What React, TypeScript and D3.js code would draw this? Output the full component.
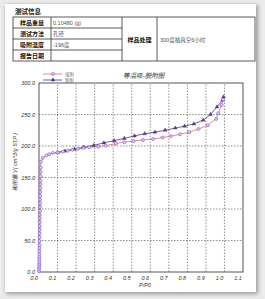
import React from 'react';
import * as d3 from 'd3';

// adsorption branch (P/P0, V)
const adsP = [0.0003, 0.0005, 0.0007, 0.0009, 0.0011, 0.0013, 0.0015, 0.0017, 0.0019, 0.0021, 0.0023, 0.0026, 0.0029, 0.0032, 0.0035, 0.0038, 0.0041, 0.0044, 0.0047, 0.005, 0.0053, 0.0056, 0.0059, 0.0062, 0.0065, 0.0068, 0.0072, 0.0076, 0.008, 0.0085, 0.009, 0.0095, 0.01,
  0.02, 0.04, 0.055, 0.075, 0.1, 0.13, 0.155, 0.18, 0.21, 0.24, 0.27, 0.32, 0.36, 0.415, 0.46, 0.51, 0.56, 0.615, 0.665, 0.71, 0.76, 0.81, 0.86, 0.91, 0.955, 0.967, 0.985, 0.993];
const adsV = [1, 4, 7, 10, 13, 16, 20, 24, 28, 33, 38, 43, 49, 55, 61, 67, 73, 79, 85, 91, 97, 103, 109, 115, 121, 127, 133, 139, 145, 152, 159, 166, 175,
  181, 185, 187, 189, 190, 191, 192.5, 194, 195.5, 197, 198, 199, 200.5, 204, 206, 208, 209.5, 211, 213.5, 215.5, 218.5, 222, 227, 233, 243, 252, 265, 274];

// desorption branch
const desP = [0.995, 0.99, 0.96, 0.925, 0.885, 0.835, 0.785, 0.735, 0.68, 0.625, 0.57, 0.515, 0.46, 0.405, 0.35, 0.295, 0.24, 0.19, 0.14, 0.1];
const desV = [278, 273, 262, 250, 241, 235, 231.5, 228.5, 225, 222, 219.5, 216, 212, 208.5, 205, 201, 198, 195, 192, 190];

const xTicks = [0, 0.1, 0.2, 0.3, 0.4, 0.5, 0.6, 0.7, 0.8, 0.9, 1.0, 1.1];
const yTicks = [0, 50, 100, 150, 200, 250, 300];

const infoLabels = ['样品重量', '测试方法', '吸附温度', '报告日期'];
const infoValues = ['0.10480 (g)', '孔径', '-196度', ''];
const treatLabel = '样品处理';
const treatValue = '300度抽真空6小时';
const seriesNames = ['吸附', '脱附'];

const font = 'Liberation Sans, Arial, "Noto Sans CJK SC", sans-serif';

export default function App() {
  const x = d3.scaleLinear().domain([0, 1.1]).range([39, 243]);
  const y = d3.scaleLinear().domain([0, 300]).range([272, 83]);

  const ads = adsP.map((p, i) => [p, adsV[i]] as [number, number]);
  const des = desP.map((p, i) => [p, desV[i]] as [number, number]);
  const line = d3.line<[number, number]>().x(d => x(d[0])).y(d => y(d[1]));
  const tri = d3.symbol(d3.symbolTriangle, 6)() as string;

  const rowY = [17, 28, 39, 50, 61];

  return (
    <svg width={265} height={299} style={{ position: 'absolute', left: 0, top: 0 }} fontFamily={font}>
      <defs>
        <filter id="sh" x="-10%" y="-10%" width="120%" height="120%">
          <feGaussianBlur stdDeviation="2" />
        </filter>
      </defs>
      <rect width={265} height={299} fill="#ececec" />
      <rect x={6} y={5} width={252} height={289} fill="#9a9a9a" filter="url(#sh)" />
      <rect x={5} y={4} width={251} height={288} fill="#fff" />

      {/* info table */}
      <text x={15} y={14} fontSize={6.5} fontWeight="bold" fill="#111">测试信息</text>
      <g stroke="#333" strokeWidth={0.8} fill="none">
        <rect x={13} y={17} width={242} height={44} />
        {rowY.slice(1, 4).map(r => <line key={r} x1={13} x2={122} y1={r} y2={r} />)}
        <line x1={51} x2={51} y1={17} y2={61} />
        <line x1={122} x2={122} y1={17} y2={61} />
        <line x1={157} x2={157} y1={17} y2={61} />
      </g>
      {infoLabels.map((l, i) => (
        <text key={l} x={32} y={rowY[i] + 7.7} fontSize={6} fontWeight="bold" textAnchor="middle" fill="#111">{l}</text>
      ))}
      {infoValues.map((v, i) => (
        <text key={i} x={53} y={rowY[i] + 7.7} fontSize={5.5} fill="#555">{v}</text>
      ))}
      <text x={139.5} y={41.5} fontSize={6} fontWeight="bold" textAnchor="middle" fill="#111">{treatLabel}</text>
      <text x={160} y={41.5} fontSize={5.5} fill="#555">{treatValue}</text>

      {/* title */}
      <text x={123} y={78} fontSize={6.5} fontStyle="italic" fill="#333">等温吸-脱附图</text>

      {/* grid */}
      <g stroke="#444" strokeWidth={0.6} strokeDasharray="1.5,1.5">
        {xTicks.slice(1, -1).map(t => <line key={t} x1={x(t)} x2={x(t)} y1={y(0)} y2={y(300)} />)}
        {yTicks.slice(1, -1).map(t => <line key={t} x1={x(0)} x2={x(1.1)} y1={y(t)} y2={y(t)} />)}
      </g>
      <rect x={x(0)} y={y(300)} width={x(1.1) - x(0)} height={y(0) - y(300)} fill="none" stroke="#444" strokeWidth={0.9} />

      {xTicks.map(t => (
        <text key={t} x={x(t) - 5} y={280} fontSize={5.5} fontStyle="italic" textAnchor="middle" fill="#333">{t.toFixed(1)}</text>
      ))}
      {yTicks.map(t => (
        <text key={t} x={35} y={y(t) + 2} fontSize={5.5} fontStyle="italic" textAnchor="end" fill="#333">{t.toFixed(1)}</text>
      ))}
      <text x={139} y={287} fontSize={5.5} fontStyle="italic" fill="#333">P/P0</text>
      <text transform="translate(17,162) rotate(-90)" fontSize={5.5} fontStyle="italic" textAnchor="middle" fill="#333">吸附量 V( cm^3/g STP )</text>

      {/* series */}
      <path d={line(ads) as string} fill="none" stroke="#e86a6a" strokeWidth={0.8} />
      <path d={line(des) as string} fill="none" stroke="#3d3d9e" strokeWidth={0.8} />
      {des.map((d, i) => (
        <path key={i} d={tri} transform={`translate(${x(d[0])},${y(d[1])})`} fill="#6a3a7a" stroke="#4a2a5a" strokeWidth={0.4} />
      ))}
      {ads.map((d, i) => (
        <circle key={i} cx={x(d[0])} cy={y(d[1])} r={1.5} fill="#ddd0f5" stroke="#7a4fd0" strokeWidth={0.6} />
      ))}

      {/* legend */}
      <line x1={43} x2={62} y1={74} y2={74} stroke="#e86a6a" strokeWidth={0.8} />
      <circle cx={53} cy={74} r={1.5} fill="#ddd0f5" stroke="#7a4fd0" strokeWidth={0.6} />
      <line x1={43} x2={62} y1={80} y2={80} stroke="#3d3d9e" strokeWidth={0.8} />
      <path d={tri} transform="translate(53,80)" fill="#6a3a7a" stroke="#4a2a5a" strokeWidth={0.4} />
      {seriesNames.map((s, i) => (
        <text key={s} x={65} y={76 + i * 6} fontSize={4.5} fill="#777">{s}</text>
      ))}
    </svg>
  );
}
